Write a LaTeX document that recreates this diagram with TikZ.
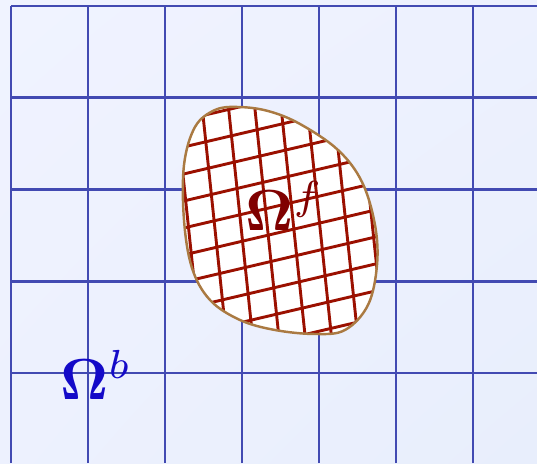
\documentclass[tikz,border=0pt]{standalone}
\usepackage{tikz}
\usetikzlibrary{shadings}
\definecolor{bgtl}{RGB}{240,243,255}
\definecolor{bgbr}{RGB}{232,238,252}
\definecolor{bggrid}{RGB}{66,74,178}
\definecolor{fgrid}{RGB}{155,16,0}
\definecolor{rim}{RGB}{170,122,66}
\definecolor{omf}{RGB}{128,0,0}
\definecolor{omb}{RGB}{20,10,200}
\def\blobpath{plot[smooth cycle,tension=0.6] coordinates {(238,356) (268,352) (300,339) (338,313) (362,281) (375,238) (377,198) (368,158) (345,133) (315,129) (275,133) (240,143) (210,163) (192,195) (184,243) (184,298) (195,336) (215,353)}}

\begin{document}
\begin{tikzpicture}[x=0.02cm,y=0.02cm,
 bline/.style={draw=bggrid,line width=1.55pt},
 fline/.style={draw=fgrid,line width=1.65pt},
 lbl/.style={inner sep=0pt,anchor=base west}]
\useasboundingbox (0,0) rectangle (537,463);
\shade[upper left=bgtl,upper right=bgtl!60!bgbr,lower left=bgtl!60!bgbr,lower right=bgbr] (0,0) rectangle (537,463);
\foreach \x in {11,88,...,473} \draw[bline] (\x,0) -- (\x,457);
\foreach \y in {457,365.25,273.5,181.75,90} \draw[bline] (11,\y) -- (537,\y);
\fill[white] \blobpath;
\begin{scope}
\clip \blobpath;
\begin{scope}[shift={(205.8,321.2)},x={(0.5134cm,0.1204cm)},y={(0.0554cm,-0.527cm)}]
\foreach \i in {-3,...,9} \draw[fline] (\i,-3) -- (\i,10);
\foreach \j in {-3,...,10} \draw[fline] (-3,\j) -- (9,\j);
\end{scope}
\end{scope}
\draw[rim,line width=1.4pt] \blobpath;
\node[lbl,text=omf] (omegaf) at (245,232) {\scalebox{3.3}{$\mathbf{\Omega}^f$}};
\node[lbl,text=omb] (omegab) at (60,63) {\scalebox{3.3}{$\mathbf{\Omega}^b$}};
\end{tikzpicture}
\end{document}
